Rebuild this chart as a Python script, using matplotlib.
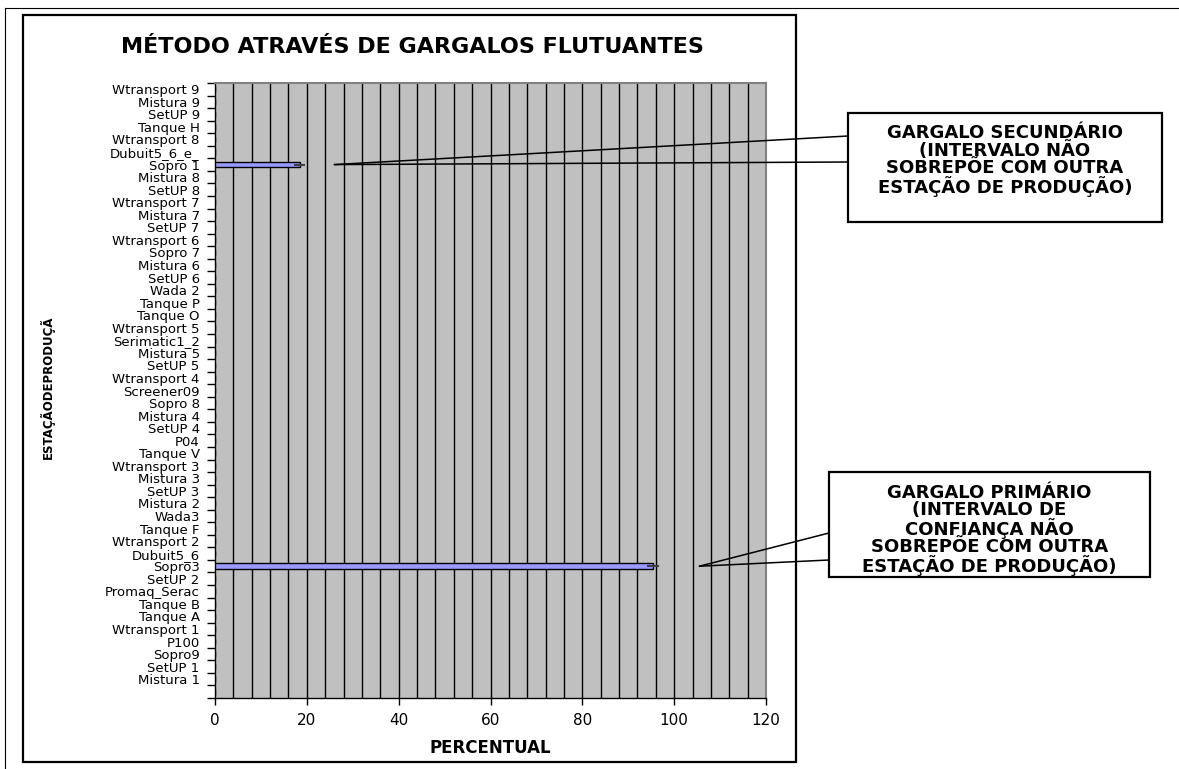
import numpy as np
import matplotlib
matplotlib.use('Agg')
import matplotlib.pyplot as plt
from matplotlib.patches import Rectangle
from matplotlib.lines import Line2D

plt.rcParams['font.family'] = ['DejaVu Sans']

# categories from bottom to top (bottom slot has no label)
stations = ['', 'Mistura 1', 'SetUP 1', 'Sopro9', 'P100', 'Wtransport 1', 'Tanque A',
            'Tanque B', 'Promaq_Serac', 'SetUP 2', 'Sopro3', 'Dubuit5_6', 'Wtransport 2',
            'Tanque F', 'Wada3', 'Mistura 2', 'SetUP 3', 'Mistura 3', 'Wtransport 3',
            'Tanque V', 'P04', 'SetUP 4', 'Mistura 4', 'Sopro 8', 'Screener09',
            'Wtransport 4', 'SetUP 5', 'Mistura 5', 'Serimatic1_2', 'Wtransport 5',
            'Tanque O', 'Tanque P', 'Wada 2', 'SetUP 6', 'Mistura 6', 'Sopro 7',
            'Wtransport 6', 'SetUP 7', 'Mistura 7', 'Wtransport 7', 'SetUP 8', 'Mistura 8',
            'Sopro 1', 'Dubuit5_6_e_', 'Wtransport 8', 'Tanque H', 'SetUP 9', 'Mistura 9',
            'Wtransport 9']

percent = [0, 0, 0, 0, 0, 0, 0, 0, 0, 0, 95.4, 0, 0, 0, 0, 0, 0, 0, 0, 0, 0, 0, 0, 0, 0,
           0, 0, 0, 0, 0, 0, 0, 0, 0, 0, 0, 0, 0, 0, 0, 0, 0, 18.5, 0, 0, 0, 0, 0, 0]
err = [0, 0, 0, 0, 0, 0, 0, 0, 0, 0, 1.3, 0, 0, 0, 0, 0, 0, 0, 0, 0, 0, 0, 0, 0, 0,
       0, 0, 0, 0, 0, 0, 0, 0, 0, 0, 0, 0, 0, 0, 0, 0, 0, 1.2, 0, 0, 0, 0, 0, 0]

x_ticks = [0, 20, 40, 60, 80, 100, 120]

W, H = 1179, 769
def px(x, y):
    return x / W, (H - y) / H

fig = plt.figure(figsize=(W / 100, H / 100), dpi=100)
ax = fig.add_axes([215 / W, (H - 698) / H, (766 - 215) / W, (698 - 83) / H])

pos = np.arange(len(stations))
ax.set_facecolor('#C0C0C0')
for gx in np.arange(4, 120, 4):
    ax.axvline(gx, color='black', lw=1.0, zorder=1)

ax.barh(pos, percent, height=0.45, color='#9999FF', edgecolor='black', lw=1.0, zorder=3)
nz = [i for i in pos if percent[i] > 0]
ax.errorbar([percent[i] for i in nz], nz, xerr=[err[i] for i in nz], fmt='none',
            ecolor='#404040', elinewidth=1.5, capsize=0, zorder=4)

ax.set_xlim(0, 120)
ax.set_ylim(-0.5, len(stations) - 0.5)
ax.set_xticks(x_ticks)
ax.set_xticklabels([str(v) for v in x_ticks], fontsize=11)
ax.set_yticks(pos)
ax.set_yticklabels(stations, fontsize=9.5)
ax.set_yticks(np.arange(-0.5, len(stations), 1), minor=True)
ax.tick_params(axis='y', which='major', length=0, pad=11)
ax.tick_params(axis='y', which='minor', length=6, width=1, direction='out')
ax.tick_params(axis='x', length=5, width=1, direction='out', pad=6)
ax.set_xlabel('PERCENTUAL', fontsize=12, fontweight='bold', labelpad=8)
for s in ['top', 'right']:
    ax.spines[s].set_color('#808080')
    ax.spines[s].set_linewidth(1.5)
for s in ['left', 'bottom']:
    ax.spines[s].set_color('black')
    ax.spines[s].set_linewidth(1.0)

fig.text(*px(412, 47), 'MÉTODO ATRAVÉS DE GARGALOS FLUTUANTES', fontsize=16,
         fontweight='bold', ha='center', va='center')
fig.text(*px(47, 387), 'ESTAÇÃODEPRODUÇÃ', rotation=90, fontsize=8.5, fontweight='bold',
         ha='center', va='center')

# chart border and page frame
fig.add_artist(Rectangle(px(23, 762), 773 / W, 747 / H, fill=False, ec='black', lw=1.6))
fig.add_artist(Line2D([5 / W, 5 / W], [0, px(0, 8)[1]], color='black', lw=0.8))
fig.add_artist(Line2D([5 / W, 1], [px(0, 8)[1]] * 2, color='black', lw=0.8))

# callouts
callouts = [
    dict(tip=(26, stations.index('Sopro 1')), box=(848, 113, 1162, 222),
         ends=[(848, 136), (848, 162)], text_y=160.5,
         text='GARGALO SECUNDÁRIO\n(INTERVALO NÃO\nSOBREPÕE COM OUTRA\nESTAÇÃO DE PRODUÇÃO)'),
    dict(tip=(105.5, stations.index('Sopro3')), box=(829, 472, 1150, 577),
         ends=[(829, 533), (829, 560)], text_y=530,
         text='GARGALO PRIMÁRIO\n(INTERVALO DE\nCONFIANÇA NÃO\nSOBREPÕE COM OUTRA\nESTAÇÃO DE PRODUÇÃO)'),
]
for c in callouts:
    for e in c['ends']:
        ax.annotate('', xy=c['tip'], xycoords='data', xytext=(e[0], H - e[1]),
                    textcoords='figure pixels', annotation_clip=False,
                    arrowprops=dict(arrowstyle='-', lw=1.1, color='black',
                                    shrinkA=0, shrinkB=0))
    x0, y0, x1, y1 = c['box']
    fig.add_artist(Rectangle(px(x0, y1), (x1 - x0) / W, (y1 - y0) / H, fc='white',
                             ec='black', lw=1.6, zorder=5))
    fig.text(*px((x0 + x1) / 2, c['text_y']), c['text'], fontsize=13, fontweight='bold',
             ha='center', va='center', linespacing=0.95, zorder=6)

fig.savefig('out.png', dpi=100)
